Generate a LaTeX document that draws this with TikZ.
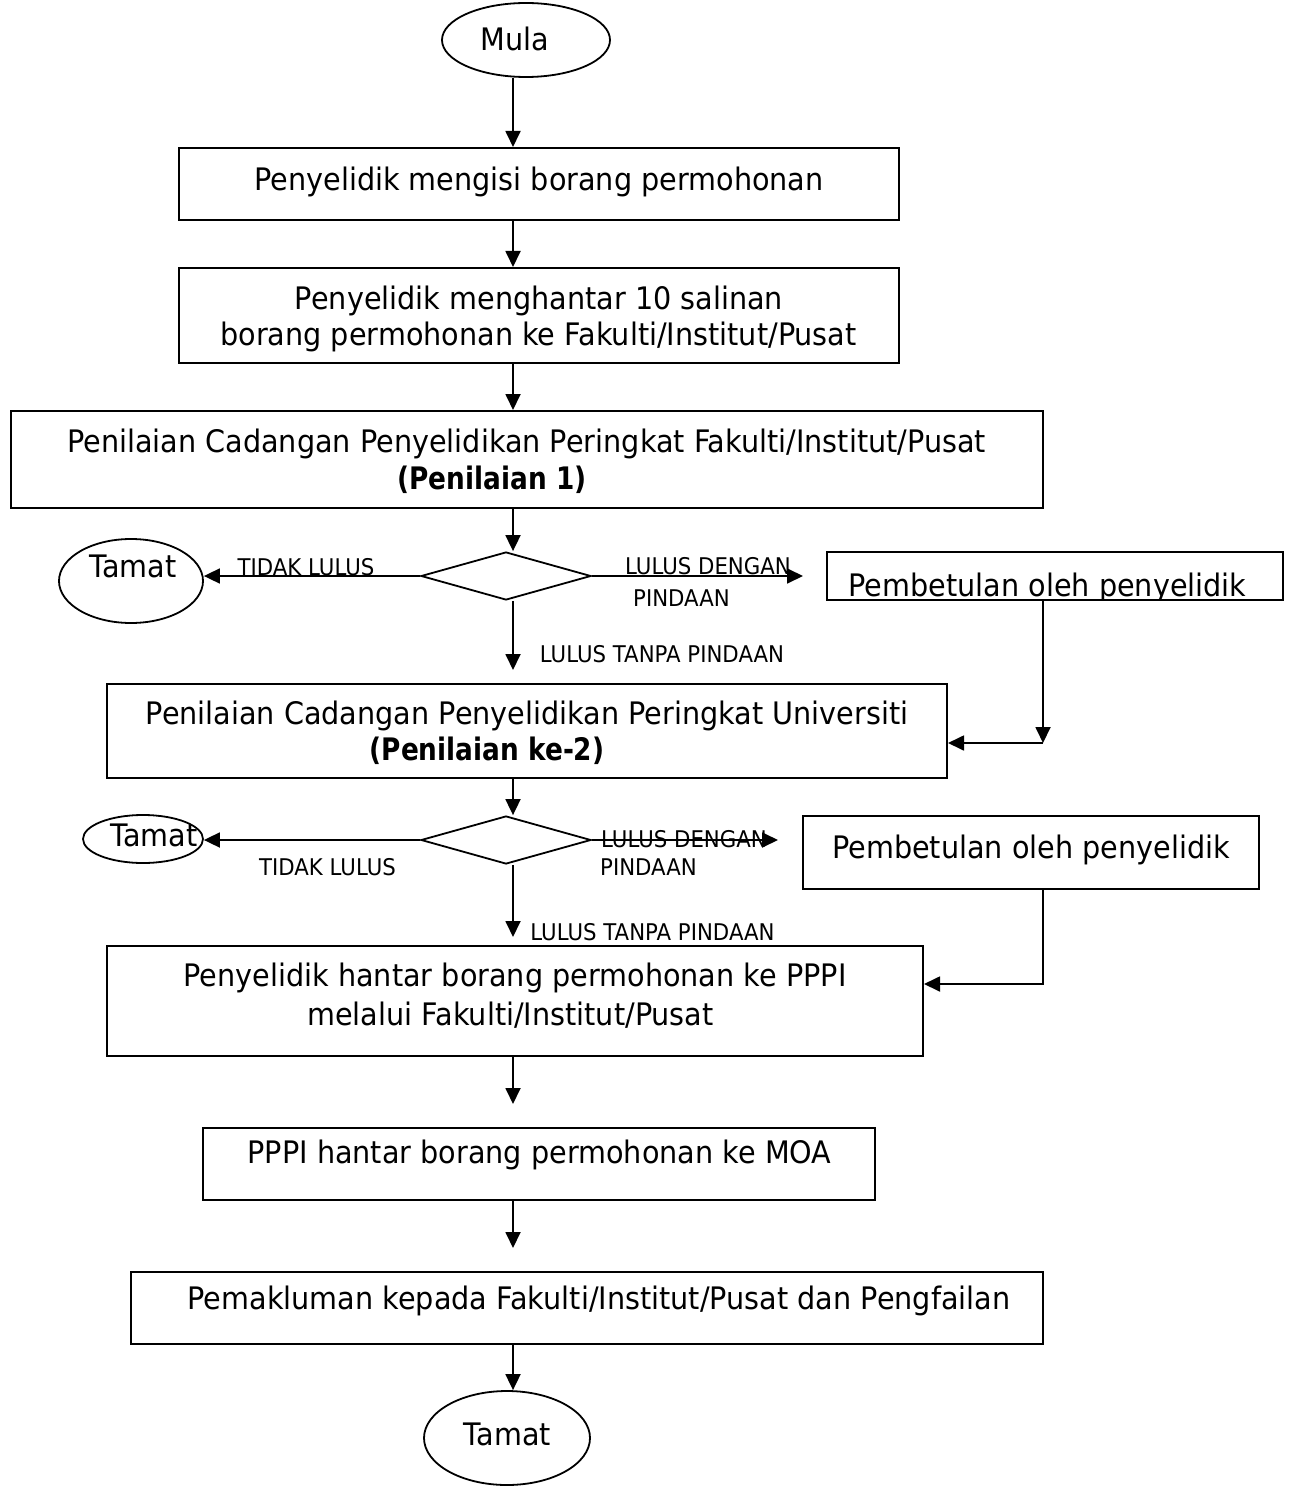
\documentclass[tikz,border=0pt]{standalone}
\usepackage{fontspec}
\setmainfont{DejaVu Sans}[FakeStretch=0.925,BoldFeatures={FakeStretch=0.85}]
\usetikzlibrary{shapes.geometric,arrows.meta}
\tikzset{
  box/.style={draw, line width=2pt, rectangle, inner sep=0pt},
  oval/.style={draw, line width=1.8pt, ellipse, inner sep=0pt},
  dec/.style={draw, line width=1.8pt, diamond, inner sep=0pt, minimum width=170pt, minimum height=48pt},
  txt/.style={inner sep=0pt, anchor=base, font=\fontsize{31}{37}\selectfont},
  btxt/.style={txt, font=\fontsize{31}{37}\selectfont\bfseries},
  lbl/.style={inner sep=0pt, anchor=base, font=\fontsize{23}{28}\selectfont},
  con/.style={line width=1.8pt},
  arr/.style={con, -{Triangle[length=16pt,width=15pt]}}
}
\begin{document}
\begin{tikzpicture}[x=1pt,y=-1pt]
\useasboundingbox (0,0) rectangle (1293,1487);
\coordinate (spine) at (513,0);
% shapes
\node[oval, minimum width=168pt, minimum height=74pt] (mula) at (526,40) {};
\node[box, minimum width=720pt, minimum height=72pt] (b1) at (539,184) {};
\node[box, minimum width=720pt, minimum height=95pt] (b2) at (539,315.5) {};
\node[box, minimum width=1032pt, minimum height=97pt] (b3) at (527,459.5) {};
\node[dec] (d1) at (506,576) {};
\node[oval, minimum width=144pt, minimum height=84pt] (t1) at (131,581) {};
\node[box, minimum width=456pt, minimum height=48pt] (p1) at (1055,576) {};
\node[box, minimum width=840pt, minimum height=94pt] (b4) at (527,731) {};
\node[dec] (d2) at (506,840) {};
\node[oval, minimum width=120pt, minimum height=48pt] (t2) at (143,839) {};
\node[box, minimum width=456pt, minimum height=73pt] (p2) at (1031,852.5) {};
\node[box, minimum width=816pt, minimum height=110pt] (b5) at (515,1001) {};
\node[box, minimum width=672pt, minimum height=72pt] (b6) at (539,1164) {};
\node[box, minimum width=912pt, minimum height=72pt] (b7) at (587,1308) {};
\node[oval, minimum width=166pt, minimum height=94pt] (t3) at (507,1438) {};
% texts
\node[txt] (mulat) at (515,51) {Mula};
\node[txt] (b1t) at (539,191) {Penyelidik mengisi borang permohonan};
\node[txt] (b2ta) at (539,309) {Penyelidik menghantar 10 salinan};
\node[txt] (b2tb) at (538.5,345) {borang permohonan ke Fakulti/Institut/Pusat};
\node[txt] (b3ta) at (526.5,452) {Penilaian Cadangan Penyelidikan Peringkat Fakulti/Institut/Pusat};
\node[btxt] (b3tb) at (492,489) {(Penilaian 1)};
\node[txt] (t1t) at (133,577) {Tamat};
\begin{scope}
\clip ([yshift=-1pt]p1.north west) rectangle ([yshift=2pt]p1.south east);
\node[txt] (p1t) at (1047.5,596) {Pembetulan oleh penyelidik};
\end{scope}
\node[txt] (b4ta) at (527,724) {Penilaian Cadangan Penyelidikan Peringkat Universiti};
\node[btxt] (b4tb) at (487,760) {(Penilaian ke-2)};
\node[txt] (t2t) at (154,846) {Tamat};
\node[txt] (p2t) at (1031,858) {Pembetulan oleh penyelidik};
\node[txt] (b5ta) at (515,986) {Penyelidik hantar borang permohonan ke PPPI};
\node[txt] (b5tb) at (510.5,1025) {melalui Fakulti/Institut/Pusat};
\node[txt] (b6t) at (539.5,1163) {PPPI hantar borang permohonan ke MOA};
\node[txt] (b7t) at (599,1309) {Pemakluman kepada Fakulti/Institut/Pusat dan Pengfailan};
\node[txt] (t3t) at (507.5,1445) {Tamat};
% labels
\node[lbl] (l1) at (306,575) {TIDAK LULUS};
\node[lbl] (l2) at (708,574) {LULUS DENGAN};
\node[lbl] (l3) at (681.5,606) {PINDAAN};
\node[lbl] (l4) at (662,662) {LULUS TANPA PINDAAN};
\node[lbl] (l5) at (327.5,875) {TIDAK LULUS};
\node[lbl] (l6) at (684,847) {LULUS DENGAN};
\node[lbl] (l7) at (648.5,875) {PINDAAN};
\node[lbl] (l8) at (652.5,940) {LULUS TANPA PINDAAN};
% free ends
\coordinate (e1) at (513,670);
\coordinate (e2) at (803,576);
\coordinate (e3) at (778,840);
\coordinate (e4) at (513,937);
\coordinate (e5) at (513,1104);
\coordinate (e6) at (513,1248);
\coordinate (c1) at (1043,743);
\coordinate (c2) at (1043,984);
% connectors
\draw[arr] (mula.south -| spine) -- (b1.north -| spine);
\draw[arr] (b1.south -| spine) -- (b2.north -| spine);
\draw[arr] (b2.south -| spine) -- (b3.north -| spine);
\draw[arr] (b3.south -| spine) -- (d1.north -| spine);
\draw[arr] (d1.west) -- (d1.west -| t1.east);
\draw[arr] (d1.east) -- (e2);
\draw[arr] (d1.south -| spine) -- (e1);
\draw[arr] (p1.south -| c1) -- (c1);
\draw[arr] (c1) -- (c1 -| b4.east);
\draw[arr] (b4.south -| spine) -- (d2.north -| spine);
\draw[arr] (d2.west) -- (d2.west -| t2.east);
\draw[arr] (d2.east) -- (e3);
\draw[arr] (d2.south -| spine) -- (e4);
\draw[arr] (p2.south -| c2) -- (c2) -- (c2 -| b5.east);
\draw[arr] (b5.south -| spine) -- (e5);
\draw[arr] (b6.south -| spine) -- (e6);
\draw[arr] (b7.south -| spine) -- (t3.north -| spine);
\end{tikzpicture}
\end{document}
